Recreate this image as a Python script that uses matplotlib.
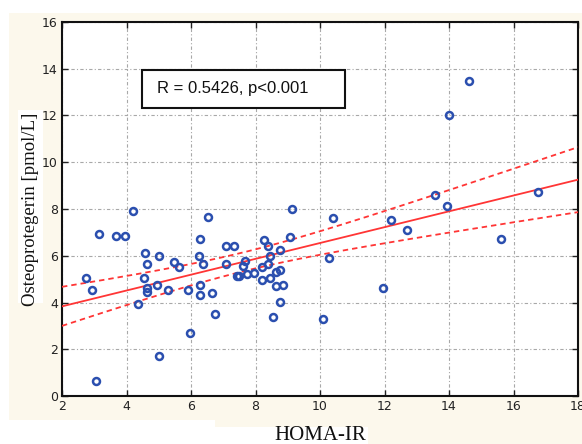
import numpy as np
import matplotlib
matplotlib.use("Agg")
import matplotlib.pyplot as plt
from matplotlib.patches import Rectangle

# ---- data ----
homa_ir = [4.19, 3.14, 3.67, 3.95, 6.52, 2.75, 2.92, 3.05, 4.57, 4.65, 5.02, 4.54,
           4.65, 4.65, 4.94, 4.36, 5.02, 5.48, 5.64, 5.28, 5.91, 5.96, 6.28, 6.26,
           6.36, 6.28, 6.27, 6.65, 6.73, 7.07, 7.33, 7.10, 7.50, 7.42, 7.60, 7.67,
           7.73, 7.96, 8.27, 8.40, 8.46, 8.40, 8.20, 8.19, 8.46, 8.63, 8.75, 8.75,
           8.63, 8.84, 8.77, 8.55, 9.07, 9.14, 10.39, 10.29, 10.08, 11.96, 12.19,
           12.70, 13.56, 13.94, 15.60, 16.77, 14.63, 14.00]
opg = [7.90, 6.92, 6.84, 6.84, 7.64, 5.04, 4.52, 0.63, 6.10, 5.63, 5.98, 5.04,
       4.64, 4.43, 4.76, 3.92, 1.72, 5.74, 5.53, 4.53, 4.52, 2.71, 6.70, 6.00,
       5.63, 4.77, 4.32, 4.41, 3.49, 6.42, 6.42, 5.63, 5.12, 5.14, 5.56, 5.78,
       5.21, 5.27, 6.67, 6.42, 6.00, 5.63, 5.50, 4.96, 5.06, 5.31, 5.41, 6.25,
       4.70, 4.77, 4.02, 3.39, 6.81, 7.99, 7.62, 5.90, 3.29, 4.60, 7.53,
       7.11, 8.59, 8.12, 6.70, 8.74, 13.49, 12.01]
x_ticks = [2, 4, 6, 8, 10, 12, 14, 16, 18]
y_ticks = [0, 2, 4, 6, 8, 10, 12, 14, 16]
stat_text = "R = 0.5426, p<0.001"
x_label = "HOMA-IR"
y_label = "Osteoprotegerin [pmol/L]"

x = np.array(homa_ir)
y = np.array(opg)

# linear fit and 95% confidence band of the mean
n = len(x)
slope, intercept = np.polyfit(x, y, 1)
xs = np.linspace(2, 18, 200)
yhat = intercept + slope * xs
resid = y - (intercept + slope * x)
s = np.sqrt(np.sum(resid ** 2) / (n - 2))
sxx = np.sum((x - x.mean()) ** 2)
tval = 1.997
half = tval * s * np.sqrt(1.0 / n + (xs - x.mean()) ** 2 / sxx)

cream = "#FCF8EC"
fig = plt.figure(figsize=(5.82, 4.44), dpi=100, facecolor=cream)

W, H = 582.0, 444.0
def fig_rect(x0, y0, x1, y1, color="white"):
    # pixel coordinates measured from top-left
    fig.patches.append(Rectangle((x0 / W, 1 - y1 / H), (x1 - x0) / W, (y1 - y0) / H,
                                 transform=fig.transFigure, facecolor=color,
                                 edgecolor="none", zorder=-10))

fig_rect(0, 0, 582, 13)
fig_rect(0, 0, 9, 444)
fig_rect(9, 420, 215, 444)
fig_rect(215, 427, 368, 444)
fig_rect(18, 110, 43, 303)

ax = fig.add_axes([62 / W, 1 - 396 / H, 516 / W, 374 / H])
ax.set_facecolor("white")

ax.grid(True, color="#A8A8A8", linestyle=(0, (3, 2, 1, 2)), linewidth=0.8)
ax.set_axisbelow(True)

ax.plot(xs, yhat, color="#FF3535", lw=1.3, zorder=3)
ax.plot(xs, yhat + half, color="#FF3535", lw=1.3, ls=(0, (3, 2.2)), zorder=3)
ax.plot(xs, yhat - half, color="#FF3535", lw=1.3, ls=(0, (3, 2.2)), zorder=3)

ax.plot(x, y, linestyle="none", marker="o", markersize=5, markerfacecolor="none",
        markeredgecolor="#2B4FAF", markeredgewidth=1.8, zorder=4)

ax.set_xlim(2, 18)
ax.set_ylim(0, 16)
ax.set_xticks(x_ticks)
ax.set_yticks(y_ticks)
ax.tick_params(direction="in", length=4, width=1, top=True, right=True,
               labelsize=9, colors="#222222", pad=3)
for sp in ax.spines.values():
    sp.set_linewidth(1.5)
    sp.set_color("#111111")

ax.set_xlabel(x_label, family="Liberation Serif", fontsize=15, color="#111111", labelpad=9)
ax.set_ylabel(y_label, family="Liberation Serif", fontsize=13.5, color="#111111", labelpad=2)

ax.add_patch(Rectangle((0.156, 0.770), 0.392, 0.102, transform=ax.transAxes,
                       facecolor="white", edgecolor="#111111", lw=1.5, zorder=5))
ax.text(0.331, 0.821, stat_text, transform=ax.transAxes, ha="center", va="center",
        fontsize=12, family="Liberation Sans", color="#111111", zorder=6)

fig.savefig("out.png", dpi=100, facecolor=fig.get_facecolor())
